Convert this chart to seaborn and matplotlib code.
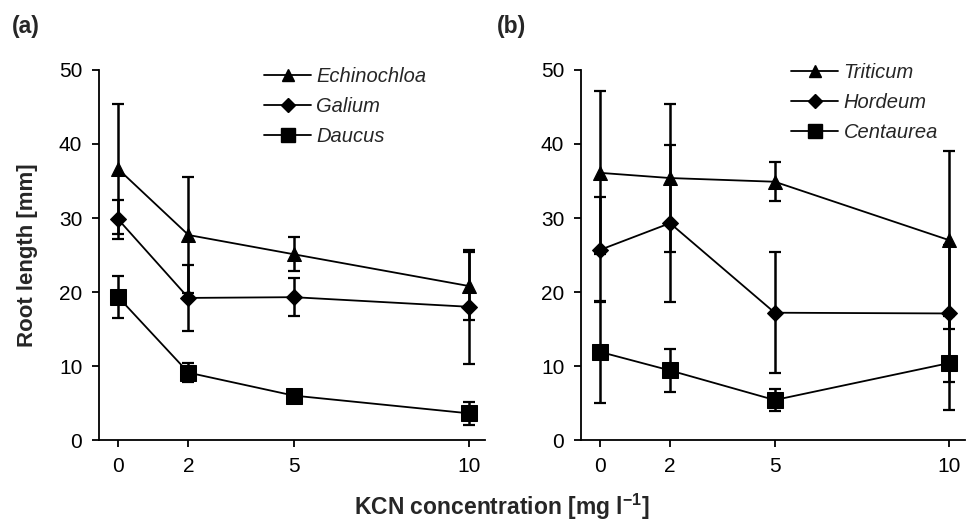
import numpy as np
import pandas as pd
import matplotlib
matplotlib.use("Agg")
import matplotlib.pyplot as plt
from matplotlib.lines import Line2D
import seaborn as sns

sns.set_theme(style="ticks")
plt.rcParams['font.family'] = ['Liberation Sans', 'DejaVu Sans']
plt.rcParams['mathtext.fontset'] = 'custom'
plt.rcParams['mathtext.rm'] = 'Liberation Sans'
plt.rcParams['mathtext.bf'] = 'Liberation Sans:bold'

# ---- data ----
kcn = [0, 2, 5, 10]
species_a = ["Echinochloa", "Galium", "Daucus"]
echinochloa = [36.6, 27.7, 25.1, 20.8]
echinochloa_err = [8.8, 7.8, 2.3, 4.6]
galium = [29.8, 19.2, 19.3, 18.0]
galium_err = [2.6, 4.5, 2.6, 7.7]
daucus = [19.3, 9.1, 6.0, 3.6]
daucus_err = [2.8, 1.3, 0.5, 1.6]

species_b = ["Triticum", "Hordeum", "Centaurea"]
triticum = [36.1, 35.4, 34.9, 27.0]
triticum_err = [11.0, 10.0, 2.6, 12.0]
hordeum = [25.7, 29.3, 17.2, 17.1]
hordeum_err = [7.1, 10.6, 8.2, 9.2]
centaurea = [11.9, 9.4, 5.4, 10.4]
centaurea_err = [6.9, 2.9, 1.5, 6.3]

y_ticks = [0, 10, 20, 30, 40, 50]
markers = ["^", "D", "s"]
msizes = [10.5, 8, 11.5]

panel_a = [(echinochloa, echinochloa_err), (galium, galium_err), (daucus, daucus_err)]
panel_b = [(triticum, triticum_err), (hordeum, hordeum_err), (centaurea, centaurea_err)]

fig = plt.figure(figsize=(9.67, 5.23), dpi=100)
axA = fig.add_axes([99/967, 83/523, 386/967, 370/523])
axB = fig.add_axes([581/967, 83/523, 384/967, 370/523])


def draw(ax, names, series, legend_anchor):
    rows = []
    for name, (vals, errs) in zip(names, series):
        for x, v, e in zip(kcn, vals, errs):
            rows.append(dict(kcn=x, value=v, err=e, species=name))
    df = pd.DataFrame(rows)
    for name in names:
        sub = df[df.species == name]
        ax.errorbar(sub.kcn, sub.value, yerr=sub.err, fmt='none', ecolor='black',
                    elinewidth=1.8, capsize=4.5, capthick=1.6, zorder=2)
    sns.lineplot(data=df, x="kcn", y="value", hue="species", style="species",
                 markers=dict(zip(names, markers)), dashes=False,
                 palette=dict(zip(names, ["black"] * 3)), ax=ax, legend=False,
                 linewidth=1.3, markeredgecolor='black', zorder=3, sort=False)
    for line, ms in zip(ax.get_lines()[-3:], msizes):
        line.set_markersize(ms)
    handles = [Line2D([], [], color='black', lw=1.3, marker=mk, markersize=ms * 0.85,
                      markeredgecolor='black') for mk, ms in zip(markers, msizes)]
    ax.legend(handles, names, loc='upper left', bbox_to_anchor=legend_anchor,
              bbox_transform=fig.transFigure, frameon=False,
              prop=dict(family='Liberation Sans', style='italic', size=14.5),
              handlelength=2.35, handletextpad=0.25, labelspacing=0.55, borderpad=0)
    ax.set_xlim(-0.55, 10.45)
    ax.set_ylim(0, 50)
    ax.set_xticks(kcn)
    ax.set_xticklabels([str(k) for k in kcn])
    ax.set_yticks(y_ticks)
    ax.tick_params(axis='both', labelsize=15, length=5, width=1.3, direction='out',
                   pad=7, color='black', labelcolor='black')
    for s in ['top', 'right']:
        ax.spines[s].set_visible(False)
    for s in ['left', 'bottom']:
        ax.spines[s].set_linewidth(1.3)
        ax.spines[s].set_color('black')
    ax.set_xlabel("")
    ax.set_ylabel("")


draw(axA, species_a, panel_a, (254/967, 1 - 57/523))
draw(axB, species_b, panel_b, (781/967, 1 - 53/523))

axA.set_ylabel("Root length [mm]", fontsize=16, fontweight='bold', labelpad=15)
fig.text(502/967, 1 - 507/523, r"KCN concentration [mg l$^{\mathbf{-1}}$]",
         ha='center', va='center', fontsize=16.5, fontweight='bold')
fig.text(12/967, 1 - 27/523, "(a)", ha='left', va='center', fontsize=16.5, fontweight='bold')
fig.text(497/967, 1 - 27/523, "(b)", ha='left', va='center', fontsize=16.5, fontweight='bold')

fig.savefig("out.png", dpi=100, facecolor='white')
